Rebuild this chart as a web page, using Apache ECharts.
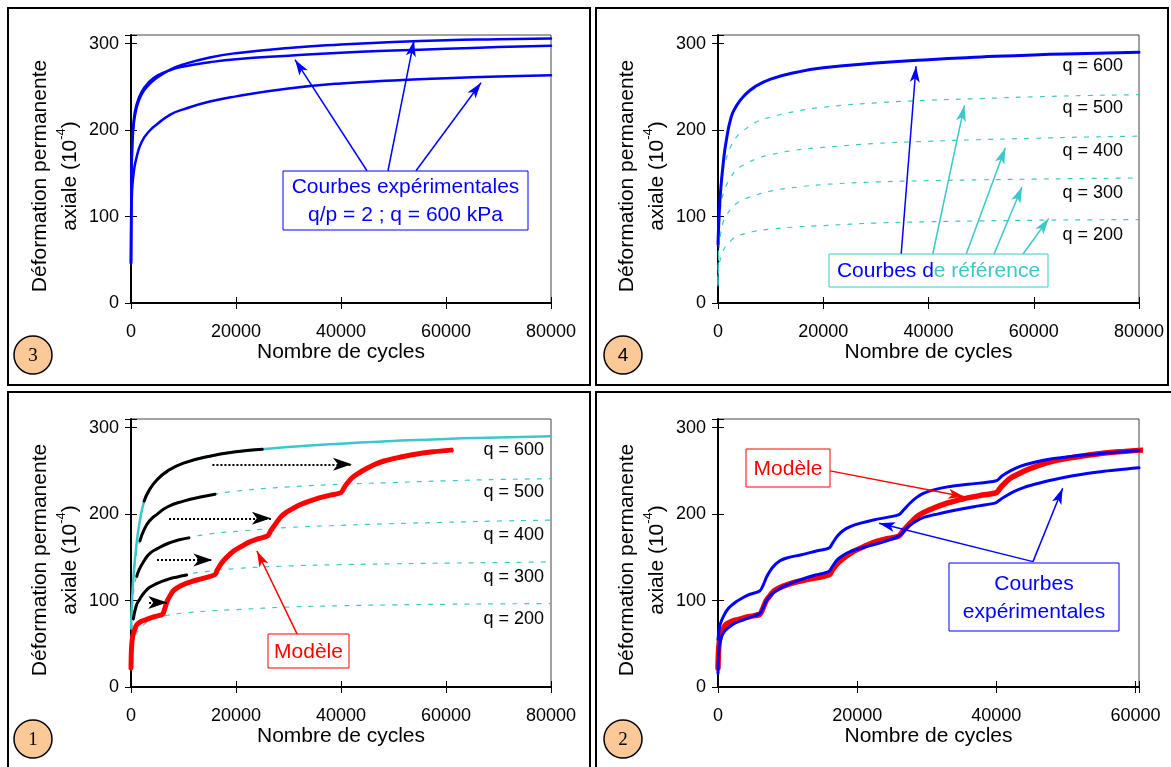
<!DOCTYPE html>
<html>
<head>
<meta charset="utf-8">
<title>Déformation permanente axiale</title>
<script src="https://cdn.jsdelivr.net/npm/echarts@6/dist/echarts.min.js"></script>
<style>
  html, body { margin: 0; padding: 0; background: #fff; }
  #chart { width: 1171px; height: 767px; }
</style>
</head>
<body>
<div id="chart"></div>
<script>
// ---- panel 3 : courbes expérimentales q/p = 2 ; q = 600 kPa
const p3Cycles = [0, 50, 200, 500, 1000, 2000, 3500, 5000, 7500, 10000, 15000, 20000, 30000, 40000, 50000, 60000, 70000, 80000];
const p3ExpA = [46, 120, 175, 205, 224, 241, 253, 261, 270, 276, 284, 289, 295, 299, 302, 304, 305, 306];
const p3ExpB = [46, 125, 180, 210, 228, 244, 256, 263, 269.5, 273.5, 278.5, 282, 286, 289.5, 292, 294, 296, 297.5];
const p3ExpC = [46, 95, 130, 150, 167, 186, 199, 207, 218, 224, 233, 239, 248, 254, 257.5, 260, 262, 263.5];

// ---- courbes de référence (panels 4 et 1)
const refCycles = [0, 200, 500, 1000, 1500, 2500, 3500, 5000, 7000, 10000, 15000, 20000, 30000, 40000, 50000, 60000, 70000, 80000];
const refQ600 = [68, 100, 130, 162, 185, 215, 228, 240, 250, 259, 267, 272, 277.5, 281.5, 284.5, 287, 288.5, 290];
const refQ500 = [28, 85, 125, 153, 166, 182, 192, 200, 208.5, 215, 222, 226.5, 231.5, 234.5, 236.5, 238.5, 240, 241];
const refQ400 = [25, 75, 110, 127, 135, 146, 154, 160, 166, 171.5, 177, 180, 184.5, 187, 189, 190.5, 192, 193];
const refQ300 = [22, 60, 80, 94, 100, 109, 115, 120, 124.5, 129.5, 134, 137, 140, 141.5, 142.5, 143.3, 144, 144.7];
const refQ200 = [20, 42, 52, 61, 66, 72.5, 77, 80, 83, 85.5, 88, 89.5, 92.5, 94, 95, 95.7, 96.2, 96.5];
const qLabels = ['q = 600', 'q = 500', 'q = 400', 'q = 300', 'q = 200'];

// ---- portions utilisées (panel 1, en noir)
const blk600Cycles = [2500, 3500, 5000, 7000, 10000, 15000, 20000, 25000];
const blk600 = [215, 228, 240, 250, 259, 267, 272, 275];
const blk500Cycles = [1700, 2500, 3500, 5000, 7000, 10000, 13000, 16000];
const blk500 = [169, 182, 192, 200, 208.5, 215, 219.5, 223];
const blk400Cycles = [1100, 1500, 2500, 3500, 5000, 7000, 9000, 11000];
const blk400 = [128, 135, 146, 154, 160, 166, 170, 172.5];
const blk300Cycles = [450, 1000, 1500, 2500, 3500, 5000, 7000, 9000, 10600];
const blk300 = [79, 94, 100, 109, 115, 120, 124.5, 127.5, 129.5];

// ---- modèle (panels 1 et 2)
const modelCycles = [0, 100, 300, 700, 1100, 2000, 2900, 4500, 6000,
  6300, 6900, 7500, 8000, 9000, 10100, 11500, 13000, 16000,
  16400, 17300, 18300, 19500, 21000, 22300, 24000, 26000,
  26600, 27700, 28500, 29500, 31000, 32400, 34000, 36000, 38000, 40000,
  40600, 41300, 42100, 43300, 44600, 46300, 48200, 51000, 53900, 57500, 61000];
const modelValues = [22, 45, 58, 66, 72, 76, 78, 81.5, 84,
  88, 99.5, 106, 111, 115.5, 118.8, 122, 124.5, 130,
  135, 143.8, 150.5, 157, 162.5, 167, 171, 174.7,
  180.5, 190, 196.5, 201.7, 207, 211.3, 215, 219, 222, 224.8,
  230.6, 236.5, 242, 247, 251.8, 257, 261.4, 265.5, 269, 272, 274];

// ---- expérimentales par paliers (panel 2)
const exp1Cycles = [0, 300, 800, 1500, 2500, 3500, 4500, 6000,
  6500, 7000, 7800, 8900, 10000, 12000, 14000, 16000,
  16500, 17200, 18000, 19000, 20500, 22500, 24500, 26000,
  26700, 27500, 28500, 29500, 31000, 33000, 36000, 40000,
  40800, 42000, 43500, 45500, 48000, 51000, 55000, 60500];
const exp1Values = [55, 72, 82, 91, 98, 103, 107, 111,
  118, 127.5, 138, 146, 149.5, 153, 157, 161,
  167, 175, 181, 185.5, 189.5, 193.5, 196.5, 199.5,
  205, 212, 219, 224, 228, 231.5, 234.5, 238.5,
  244, 250, 255.5, 260, 264, 267, 270, 273.5];
const exp2Cycles = [0, 150, 500, 1000, 1700, 2500, 3600, 4800, 6000,
  6500, 7000, 7800, 8900, 10000, 11800, 14000, 15900,
  16400, 17100, 18000, 19000, 20500, 22300, 24000, 26000,
  26700, 27400, 28400, 29500, 31500, 34800, 37500, 39900,
  40600, 41200, 42500, 44000, 45500, 48000, 50800, 55000, 60500];
const exp2Values = [16, 45, 58, 65, 70, 74, 77.5, 81, 85,
  92, 100.5, 108, 114, 118.5, 124, 129.5, 133.5,
  139, 147, 152.5, 156.5, 160.5, 164.5, 168.5, 174.5,
  180, 186, 191.5, 196, 200, 205.5, 209.5, 213,
  217, 220, 226, 231, 234.5, 239.5, 244, 249, 253.5];

// ---- flèches [x1, y1, x2 (pointe), y2]
const p3Arrows = [[44950, 153, 31240, 281.5], [48950, 153, 53900, 303.5], [54290, 153, 66670, 254.8]];
const p4ArrowsBlue = [[34810, 56.7, 37630, 273.8]];
const p4ArrowsCyan = [[40810, 56.7, 46810, 228.3], [47170, 56.7, 54580, 179.3], [52460, 56.7, 57760, 134.2], [57970, 56.7, 62840, 97.6]];
const p1ShiftArrows = [[15510, 257.6, 42080, 257.6], [7250, 195.1, 26640, 195.1], [4955, 146.9, 15510, 146.9], [3450, 97.6, 6900, 97.6]];
const p1ModelArrow = [[31670, 60.9, 23990, 157.3]];
const p2ModelArrow = [[16115, 250, 35400, 220]];
const p2ExpArrows = [[45270, 145, 23150, 189.4], [45270, 145, 49530, 229.8]];

const FONT = '"Liberation Sans", Arial, sans-serif';
const BLUE = '#0000ff';
const CYAN = '#3cc8c8';
const RED = '#ff0000';
// narrow arrow heads, tip at the centre of a square box
const ARROW = 'path://M0,0L5,16L0,12L-5,16ZM-16,-16M16,16';
const ARROW_BIG = 'path://M0,0L6.5,19L0,14L-6.5,19ZM-20,-20M20,20';

// order : 3 (haut gauche), 4 (haut droite), 1 (bas gauche), 2 (bas droite)
const panels = [
  { left: 131, top: 35, width: 420, xMax: 80000 },
  { left: 718, top: 35, width: 421, xMax: 80000 },
  { left: 131, top: 419, width: 420, xMax: 80000 },
  { left: 718, top: 419, width: 421, xMax: 60500 }
];

const grid = [], xAxis = [], yAxis = [];
panels.forEach((p, i) => {
  grid.push({ left: p.left, top: p.top, width: p.width, height: 268, show: true, borderColor: '#444', borderWidth: 1 });
  xAxis.push({
    type: 'value', gridIndex: i, min: 0, max: p.xMax, interval: 20000, position: 'bottom',
    name: 'Nombre de cycles', nameLocation: 'middle', nameGap: 38,
    nameTextStyle: { fontFamily: FONT, fontSize: 21, color: '#000' },
    axisLine: { show: true, onZero: false, lineStyle: { color: '#000', width: 2 } },
    axisTick: { show: true, length: 6, lineStyle: { color: '#000', width: 1 } },
    axisLabel: { margin: 20, fontFamily: FONT, fontSize: 18, color: '#000',
      formatter: v => (v % 20000 === 0 ? String(v) : '') },
    splitLine: { show: false }
  }, {
    type: 'value', gridIndex: i, min: 0, max: p.xMax, interval: 20000, position: 'bottom',
    axisLine: { show: false },
    axisTick: { show: true, inside: true, length: 6, lineStyle: { color: '#000', width: 1 } },
    axisLabel: { show: false }, splitLine: { show: false }
  });
  yAxis.push({
    type: 'value', gridIndex: i, min: 0, max: 310, interval: 100, position: 'left',
    name: 'Déformation permanente\naxiale (10{sup|-4})', nameLocation: 'middle', nameGap: 45,
    nameTextStyle: { fontFamily: FONT, fontSize: 21, lineHeight: 30, color: '#000', padding: [0, 14, 0, 0],
      rich: { sup: { fontFamily: FONT, fontSize: 13, lineHeight: 16, verticalAlign: 'top', color: '#000' } } },
    axisLine: { show: true, onZero: false, lineStyle: { color: '#000', width: 2 } },
    axisTick: { show: true, length: 6, lineStyle: { color: '#000', width: 1 } },
    axisLabel: { margin: 12, fontFamily: FONT, fontSize: 18, color: '#000',
      formatter: v => (v % 100 === 0 ? String(v) : '') },
    splitLine: { show: false }
  }, {
    type: 'value', gridIndex: i, min: 0, max: 310, interval: 100, position: 'left',
    axisLine: { show: false },
    axisTick: { show: true, inside: true, length: 6, lineStyle: { color: '#000', width: 1 } },
    axisLabel: { show: false }, splitLine: { show: false }
  });
});

function curve(panel, xs, ys, color, width, dash, smooth) {
  return {
    type: 'line', xAxisIndex: panel * 2, yAxisIndex: panel * 2,
    data: xs.map((x, k) => [x, ys[k]]),
    symbol: 'none', showSymbol: false, smooth: smooth == null ? 0.5 : smooth,
    lineStyle: { color: color, width: width, type: dash || 'solid', cap: 'round', join: 'round' },
    silent: true, animation: false
  };
}

function arrowItems(list, color, width, dash, big) {
  return list.map(a => [
    { coord: [a[0], a[1]], lineStyle: { color: color, width: width, type: dash || 'solid' } },
    big ? { coord: [a[2], a[3]], symbol: ARROW_BIG, symbolSize: 40 } : { coord: [a[2], a[3]] }
  ]);
}

function markArrows(items) {
  return {
    silent: true, animation: false,
    symbol: ['none', ARROW], symbolSize: 32,
    label: { show: false },
    emphasis: { disabled: true },
    lineStyle: { type: 'solid', opacity: 1 },
    data: items
  };
}

const dash = [4, 8];
const series = [];

// panel 3
series.push(curve(0, p3Cycles, p3ExpC, BLUE, 2.5));
series.push(curve(0, p3Cycles, p3ExpB, BLUE, 2.5));
const s3 = curve(0, p3Cycles, p3ExpA, BLUE, 2.5);
s3.markLine = markArrows(arrowItems(p3Arrows, BLUE, 1.5));
series.push(s3);

// panel 4
[refQ200, refQ300, refQ400, refQ500].forEach(v => series.push(curve(1, refCycles, v, CYAN, 1.2, dash)));
const s4 = curve(1, refCycles, refQ600, BLUE, 3);
s4.markLine = markArrows(arrowItems(p4ArrowsBlue, BLUE, 1.5).concat(arrowItems(p4ArrowsCyan, CYAN, 1.5)));
series.push(s4);

// panel 1
[refQ200, refQ300, refQ400, refQ500].forEach(v => series.push(curve(2, refCycles, v, CYAN, 1.2, dash)));
series.push(curve(2, refCycles, refQ600, CYAN, 2.5));
series.push(curve(2, blk600Cycles, blk600, '#000', 3));
series.push(curve(2, blk500Cycles, blk500, '#000', 3));
series.push(curve(2, blk400Cycles, blk400, '#000', 3));
series.push(curve(2, blk300Cycles, blk300, '#000', 3));
const s1 = curve(2, modelCycles, modelValues, RED, 5, null, 0.3);
s1.markLine = markArrows(arrowItems(p1ShiftArrows, '#000', 2, [2, 2], true).concat(arrowItems(p1ModelArrow, RED, 1.5)));
series.push(s1);

// panel 2
series.push(curve(3, modelCycles, modelValues, RED, 5.5, null, 0.3));
series.push(curve(3, exp1Cycles, exp1Values, BLUE, 3, null, 0.3));
const s2b = curve(3, exp2Cycles, exp2Values, BLUE, 3, null, 0.3);
s2b.markLine = markArrows(arrowItems(p2ModelArrow, RED, 1.5).concat(arrowItems(p2ExpArrows, BLUE, 1.5)));
series.push(s2b);

// ---- cadres, numéros, étiquettes, encadrés
const graphic = [];
[[8, 8, 582, 377], [596, 8, 572, 377], [8, 392, 582, 400], [596, 392, 600, 400]].forEach(r => {
  graphic.push({ type: 'rect', z: 100, silent: true,
    shape: { x: r[0], y: r[1], width: r[2], height: r[3] },
    style: { fill: 'none', stroke: '#000', lineWidth: 2 } });
});
[['3', 33, 355, 'serif'], ['4', 623, 355, 'sans'], ['1', 33, 739, 'serif'], ['2', 623, 739, 'serif']].forEach(c => {
  graphic.push({ type: 'circle', z: 100, silent: true,
    shape: { cx: c[1], cy: c[2], r: 19 },
    style: { fill: '#fac997', stroke: '#000', lineWidth: 1.5 } });
  graphic.push({ type: 'text', z: 101, silent: true,
    style: { text: c[0], x: c[1], y: c[2] + 1, align: 'center', verticalAlign: 'middle', fill: '#000',
      fontSize: 19, fontFamily: c[3] === 'serif' ? '"Liberation Serif", "Times New Roman", serif' : FONT } });
});
[[1123, 35], [544, 419]].forEach(o => {
  qLabels.forEach((t, k) => {
    graphic.push({ type: 'text', z: 100, silent: true,
      style: { text: t, x: o[0], y: o[1] + 31 + k * 42.3, align: 'right', verticalAlign: 'middle',
        fill: '#000', fontSize: 18, fontFamily: FONT } });
  });
});
function box(x, y, w, h, color, text, rich) {
  graphic.push({ type: 'rect', z: 100, silent: true,
    shape: { x: x, y: y, width: w, height: h },
    style: { fill: '#fff', stroke: color, lineWidth: 1 } });
  graphic.push({ type: 'text', z: 101, silent: true,
    style: { text: text, x: x + w / 2, y: y + h / 2 + 1, align: 'center', verticalAlign: 'middle',
      fill: color, fontSize: 21, fontFamily: FONT, lineHeight: 28, rich: rich } });
}
box(283, 171, 245, 59, BLUE, 'Courbes expérimentales\nq/p = 2 ; q = 600 kPa');
box(829, 254, 219, 33, CYAN, '{b|Courbes d}{c|e référence}', {
  b: { fill: BLUE, fontSize: 21, fontFamily: FONT },
  c: { fill: CYAN, fontSize: 21, fontFamily: FONT }
});
box(268, 634, 81, 34, RED, 'Modèle');
box(746, 449, 84, 38, RED, 'Modèle');
box(949, 563, 170, 68, BLUE, 'Courbes\nexpérimentales');

const chart = echarts.init(document.getElementById('chart'));
chart.setOption({
  backgroundColor: '#ffffff',
  animation: false,
  grid: grid,
  xAxis: xAxis,
  yAxis: yAxis,
  series: series,
  graphic: graphic
});
</script>
</body>
</html>
